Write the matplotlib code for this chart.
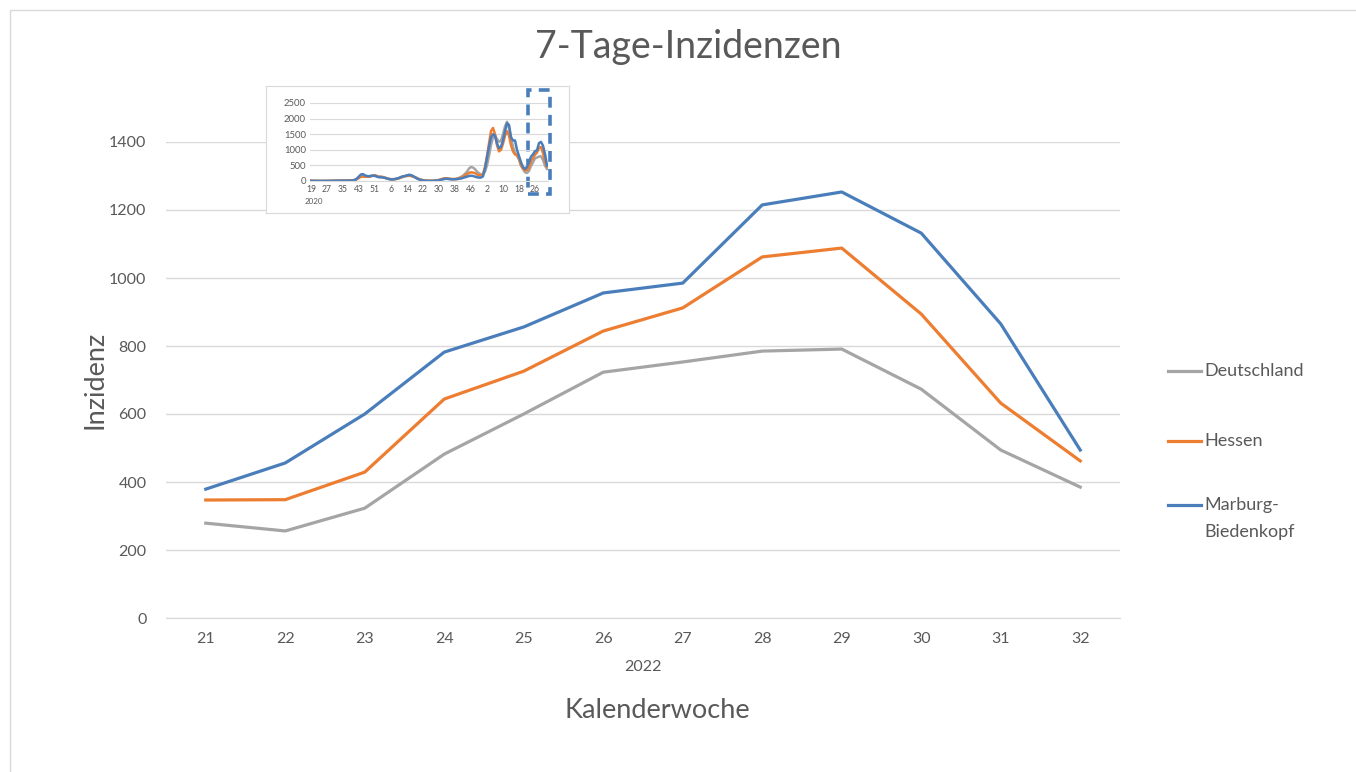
import matplotlib.pyplot as plt
from matplotlib.patches import Rectangle
from matplotlib.lines import Line2D

plt.rcParams['font.family'] = ['Lato', 'DejaVu Sans']

# main chart: KW 21-32 / 2022
weeks = [21, 22, 23, 24, 25, 26, 27, 28, 29, 30, 31, 32]
deutschland = [279, 256, 323, 482, 600, 723, 753, 785, 791, 673, 494, 385]
hessen = [347, 348, 429, 644, 726, 844, 912, 1062, 1088, 894, 632, 462]
marburg = [379, 456, 600, 782, 856, 956, 985, 1215, 1253, 1132, 865, 494]

# inset: KW 19/2020 - KW 32/2022 (weekly)
de_all = ([8, 6, 4, 3, 3, 2, 2, 3, 3, 4, 5, 6, 8, 10, 11, 12, 12, 12, 13, 15, 18, 25,
           40, 70, 110, 145, 140, 140, 140, 145, 155, 175, 190, 160, 140]
          + [140, 130, 110, 85, 70, 60, 60, 65, 70, 85,
             110, 130, 150, 160, 165, 160, 140, 120, 90, 60,
             40, 25, 15, 10, 6, 6, 8, 12, 18, 28,
             45, 60, 75, 80, 75, 65, 60, 65, 80, 100,
             130, 170, 230, 300, 400, 450, 430, 380, 300, 250, 200, 220]
          + [300, 500, 800, 1150, 1400, 1450, 1350, 1250, 1300, 1500,
             1750, 1900, 1700, 1400, 1100, 900, 800, 700, 500, 380]
          + deutschland)
he_all = ([7, 5, 3, 2, 2, 2, 2, 2, 3, 4, 5, 6, 8, 10, 11, 12, 12, 12, 13, 15, 18, 22,
           35, 65, 100, 140, 140, 135, 135, 135, 150, 170, 180, 150, 130]
          + [130, 120, 100, 80, 65, 55, 55, 60, 70, 90,
             115, 140, 160, 170, 175, 165, 145, 120, 90, 60,
             40, 25, 15, 10, 6, 6, 8, 14, 22, 35,
             55, 75, 90, 85, 75, 65, 60, 60, 70, 90,
             110, 140, 180, 220, 260, 280, 270, 250, 210, 180, 180, 230]
          + [450, 800, 1200, 1600, 1700, 1500, 1150, 950, 1000, 1200,
             1450, 1600, 1450, 1150, 950, 850, 850, 700, 500, 400]
          + hessen)
mb_all = ([5, 4, 3, 2, 2, 1, 1, 2, 2, 3, 4, 5, 6, 8, 9, 10, 10, 10, 11, 12, 14, 18,
           30, 80, 150, 210, 220, 180, 160, 150, 170, 170, 160, 140, 120]
          + [120, 110, 100, 80, 60, 50, 50, 60, 80, 100,
             130, 150, 160, 180, 200, 190, 160, 120, 80, 50,
             30, 15, 8, 5, 3, 3, 5, 10, 15, 25,
             40, 55, 70, 70, 60, 55, 55, 55, 60, 70,
             80, 100, 120, 140, 160, 170, 160, 140, 120, 110, 110, 150]
          + [400, 750, 1100, 1400, 1500, 1450, 1200, 1050, 1100, 1300,
             1600, 1850, 1800, 1400, 1300, 1300, 1000, 800, 600, 450]
          + marburg)
inset_labels = ['19', '27', '35', '43', '51', '6', '14', '22', '30', '38', '46', '2', '10', '18', '26']

grey = '#A5A5A5'
orange = '#ED7D31'
blue = '#4A7EBB'
txt = '#595959'
grid = '#D9D9D9'

W, H = 1356, 772
fig = plt.figure(figsize=(W / 100, H / 100), dpi=100)

def box(l, t, r, b):
    return [l / W, 1 - b / H, (r - l) / W, (b - t) / H]

# outer chart frame
fig.add_artist(Rectangle((10 / W, -0.05), 1.1, 1 - 10 / H + 0.05, transform=fig.transFigure,
                         fill=False, edgecolor=grid, lw=1))

ax = fig.add_axes(box(166, 142, 1120, 618))
ax.plot(weeks, deutschland, color=grey, lw=2.3)
ax.plot(weeks, hessen, color=orange, lw=2.3)
ax.plot(weeks, marburg, color=blue, lw=2.3)
ax.set_xlim(20.5, 32.5)
ax.set_ylim(0, 1400)
ax.set_yticks(range(0, 1401, 200))
ax.set_xticks(weeks)
ax.grid(axis='y', color=grid, lw=1)
ax.set_axisbelow(True)
for s in ['top', 'right', 'left']:
    ax.spines[s].set_visible(False)
ax.spines['bottom'].set_color(grid)
ax.tick_params(length=0, colors=txt, labelsize=11.5, pad=10)
ax.tick_params(axis='y', pad=14)
ax.set_xlabel('2022\n', color=txt, fontsize=11.5, labelpad=10)
fig.text(657 / W, 1 - 711 / H, 'Kalenderwoche', color=txt, fontsize=19.5, ha='center', va='center')
fig.text(95 / W, 1 - 380 / H, 'Inzidenz', color=txt, fontsize=19.5, ha='center', va='center', rotation=90)
fig.text(688 / W, 1 - 47 / H, '7-Tage-Inzidenzen', color=txt, fontsize=27, ha='center', va='center')

# legend
for y, c, lab in [(371, grey, 'Deutschland'), (441, orange, 'Hessen'), (505, blue, 'Marburg-\nBiedenkopf')]:
    fig.add_artist(Line2D([1168 / W, 1201 / W], [1 - y / H] * 2, color=c, lw=2.3,
                          transform=fig.transFigure))
    fig.text(1204 / W, 1 - (y - 8) / H, lab, color=txt, fontsize=13, ha='left', va='top',
             linespacing=1.85)

# inset
frame = fig.add_axes(box(266, 86, 569, 213))
frame.set_xticks([])
frame.set_yticks([])
for s in frame.spines.values():
    s.set_color(grid)
frame.set_facecolor('white')

axi = fig.add_axes(box(310, 103, 548, 181))
idx = range(len(de_all))
axi.plot(idx, de_all, color=grey, lw=1.8)
axi.plot(idx, he_all, color=orange, lw=1.8)
axi.plot(idx, mb_all, color=blue, lw=1.8)
axi.set_xlim(-0.5, len(de_all) - 0.5)
axi.set_ylim(0, 2500)
axi.set_yticks(range(0, 2501, 500))
axi.set_xticks(range(0, len(de_all), 8))
axi.set_xticklabels(inset_labels)
axi.grid(axis='y', color=grid, lw=0.8)
axi.set_facecolor('none')
for s in ['top', 'right', 'left']:
    axi.spines[s].set_visible(False)
axi.spines['bottom'].set_color(grid)
axi.tick_params(length=0, colors=txt, labelsize=6.8, pad=3)
axi.tick_params(axis='x', labelsize=6.2)
fig.text(305 / W, 1 - 201 / H, '2020', color=txt, fontsize=5.8, ha='left', va='center')
axi.add_patch(Rectangle((108.5, -420), 11, 3330, fill=False, edgecolor=blue, lw=2.6,
                        linestyle=(0, (3, 2)), clip_on=False))

fig.savefig('out.png', dpi=100)
